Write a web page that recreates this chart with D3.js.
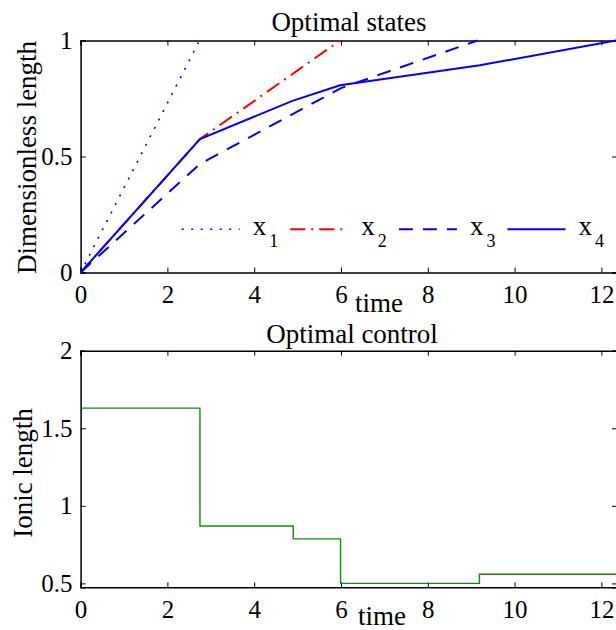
<!DOCTYPE html>
<html>
<head>
<meta charset="utf-8">
<script src="https://cdn.jsdelivr.net/npm/d3@7"></script>
</head>
<body style="margin:0;background:#fff">
<svg id="chart" width="616" height="630" style="display:block;font-family:'Liberation Serif'"></svg>
<script>
// ---------------- data ----------------
const xTicks = [0, 2, 4, 6, 8, 10, 12];
const yTicksTop = [0, 0.5, 1];
const yTicksBottom = [0.5, 1, 1.5, 2];

// states (time, value)
const x1Time = [0, 2.74];
const x1Val  = [0, 1];
const x2Time = [0, 2.75, 5.98];
const x2Val  = [0, 0.575, 1];
const x3Time = [0, 2.75, 6.0, 9.15];
const x3Val  = [0, 0.468, 0.795, 1];
const x4Time = [0, 2.75, 4.88, 5.98, 9.2, 12.34];
const x4Val  = [0, 0.575, 0.74, 0.807, 0.893, 1];

// control: piecewise constant, value uVal[i] on [uTime[i], uTime[i+1])
const uTime = [0, 2.75, 4.90, 5.99, 9.19, 12.36];
const uVal  = [1.63, 0.87, 0.787, 0.5, 0.559];

const seriesNames = ["x", "x", "x", "x"];
const seriesSubs  = ["1", "2", "3", "4"];

// ---------------- layout ----------------
const svg = d3.select("#chart");
const L = 80.6, R = 617;
const top1 = 40.5, bot1 = 272.5;
const top2 = 350.7, bot2 = 587.3;

const x = d3.scaleLinear().domain([0, 12.36]).range([L, R]);
const y1 = d3.scaleLinear().domain([0, 1]).range([bot1, top1]);
const y2 = d3.scaleLinear().domain([0.475, 2]).range([bot2, top2]);

function addText(sel, size) {
  return sel.append("text")
    .attr("style", "font-family:'Liberation Serif';font-size:" + size + "px;fill:#000");
}

function drawAxes(yScale, yTicks, yTop, yBot) {
  const g = svg.append("g");
  g.append("g").attr("transform", `translate(0,${yBot})`)
    .call(d3.axisBottom(x).tickValues(xTicks).tickSize(-5).tickPadding(13).tickFormat(d => String(d)));
  g.append("g").attr("transform", `translate(0,${yTop})`)
    .call(d3.axisTop(x).tickValues(xTicks).tickSize(-5).tickFormat(""));
  g.append("g").attr("transform", `translate(${L},0)`)
    .call(d3.axisLeft(yScale).tickValues(yTicks).tickSize(-5).tickPadding(8).tickFormat(d => String(d)));
  g.append("g").attr("transform", `translate(${R},0)`)
    .call(d3.axisRight(yScale).tickValues(yTicks).tickSize(-5).tickFormat(""));
  g.selectAll("g").attr("font-family", "Liberation Serif").attr("font-size", 25);
  g.selectAll(".domain").attr("stroke", "#000").attr("stroke-width", 1.5);
  g.selectAll(".tick line").attr("stroke", "#000").attr("stroke-width", 1);
  g.selectAll(".tick text")
    .attr("style", "font-family:'Liberation Serif';font-size:25px;fill:#000");
  return g;
}

// ---------------- top plot ----------------
drawAxes(y1, yTicksTop, top1, bot1);

const line1 = d3.line().x(d => x(d[0])).y(d => y1(d[1]));
const states = [
  { t: x1Time, v: x1Val, color: "#0000ff", dash: "2,7.5", w: 1.6 },
  { t: x2Time, v: x2Val, color: "#ff0000", dash: "15,6,2,6", w: 2 },
  { t: x3Time, v: x3Val, color: "#0000ff", dash: "14,10", w: 2 },
  { t: x4Time, v: x4Val, color: "#0000ff", dash: null, w: 2 }
];
states.forEach(s => {
  svg.append("path")
    .datum(s.t.map((t, i) => [t, s.v[i]]))
    .attr("d", line1)
    .attr("fill", "none")
    .attr("stroke", s.color)
    .attr("stroke-width", s.w)
    .attr("stroke-dasharray", s.dash);
});

// legend
const legY = 229.3;
const legX0 = 181.7, legStep = 108.6, legLen = 58;
states.forEach((s, i) => {
  const lx = legX0 + i * legStep;
  svg.append("line")
    .attr("x1", lx).attr("x2", lx + legLen)
    .attr("y1", legY).attr("y2", legY)
    .attr("stroke", s.color).attr("stroke-width", s.w)
    .attr("stroke-dasharray", s.dash);
  const t = addText(svg, 27).attr("x", lx + 71).attr("y", 235);
  t.append("tspan").text(seriesNames[i]);
  t.append("tspan").attr("dx", 3).attr("dy", 11.5).attr("style", "font-size:18px").text(seriesSubs[i]);
});

addText(svg, 27).attr("x", 349).attr("y", 31).attr("text-anchor", "middle").text("Optimal states");
addText(svg, 27).attr("x", 379).attr("y", 311.5).attr("text-anchor", "middle").text("time");
addText(svg, 27).attr("transform", `translate(36,${(top1 + bot1) / 2 + 1}) rotate(-90)`)
  .attr("text-anchor", "middle").text("Dimensionless length");

// ---------------- bottom plot ----------------
drawAxes(y2, yTicksBottom, top2, bot2);

const uPts = uVal.map((v, i) => [uTime[i], v]);
uPts.push([uTime[uTime.length - 1], uVal[uVal.length - 1]]);
const line2 = d3.line().curve(d3.curveStepAfter).x(d => x(d[0])).y(d => y2(d[1]));
svg.append("path")
  .datum(uPts)
  .attr("d", line2)
  .attr("fill", "none")
  .attr("stroke", "#108a10")
  .attr("stroke-width", 1.4);

addText(svg, 27).attr("x", 352).attr("y", 343).attr("text-anchor", "middle").text("Optimal control");
addText(svg, 27).attr("x", 382).attr("y", 625).attr("text-anchor", "middle").text("time");
addText(svg, 27).attr("transform", `translate(32,${(top2 + bot2) / 2 + 4}) rotate(-90)`)
  .attr("text-anchor", "middle").text("Ionic length");
</script>
</body>
</html>
